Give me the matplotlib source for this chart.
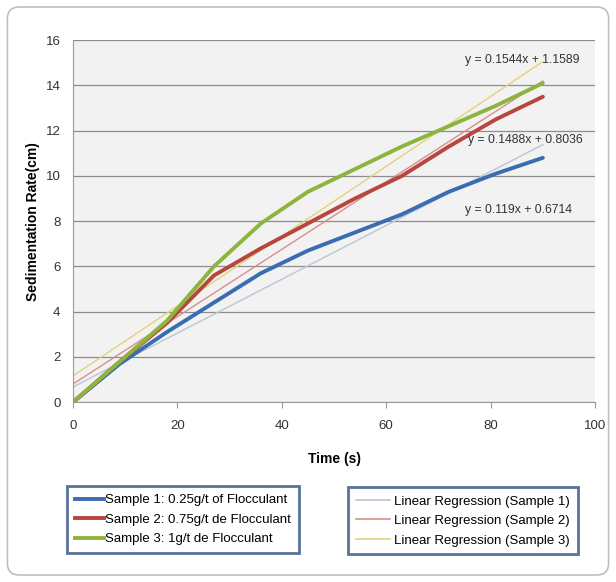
import matplotlib
matplotlib.use("Agg")
import matplotlib.pyplot as plt
from matplotlib.patches import FancyBboxPatch
from matplotlib.lines import Line2D

# measured times (s)
time = [0, 9, 18, 27, 36, 45, 54, 63, 72, 81, 90]

# sedimentation (cm)
sample1 = [0, 1.7, 3.1, 4.4, 5.7, 6.7, 7.5, 8.3, 9.3, 10.1, 10.8]
sample2 = [0, 1.8, 3.5, 5.6, 6.8, 7.9, 9.0, 10.0, 11.3, 12.5, 13.5]
sample3 = [0, 1.8, 3.6, 6.0, 7.9, 9.3, 10.3, 11.3, 12.2, 13.1, 14.1]

labels = ["Sample 1: 0.25g/t of Flocculant",
          "Sample 2: 0.75g/t de Flocculant",
          "Sample 3: 1g/t de Flocculant"]
reg_labels = ["Linear Regression (Sample 1)",
              "Linear Regression (Sample 2)",
              "Linear Regression (Sample 3)"]

# regression coefficients (slope, intercept) as printed on the chart
reg1 = (0.119, 0.6714)
reg2 = (0.1488, 0.8036)
reg3 = (0.1544, 1.1589)
eq_text = ["y = 0.119x + 0.6714", "y = 0.1488x + 0.8036", "y = 0.1544x + 1.1589"]

colors = ["#3a6cb0", "#b8463f", "#8db43e"]
reg_colors = ["#b9c6d6", "#d98f8a", "#e3d27a"]

plt.rcParams['font.family'] = ['Liberation Sans', 'DejaVu Sans']

fig = plt.figure(figsize=(6.16, 5.82), dpi=100)
fig.patch.set_facecolor("white")

# rounded outer frame
frame = FancyBboxPatch((0.012, 0.012), 0.976, 0.976,
                       boxstyle="round,pad=0,rounding_size=0.02",
                       transform=fig.transFigure, fc="white", ec="#bfbfbf",
                       lw=1.2, zorder=-10)
fig.patches.append(frame)

ax = fig.add_axes([0.1185, 0.309, 0.8475, 0.622])
ax.set_facecolor("#f2f2f2")

xs = [0, 90]
ax.plot(xs, [reg1[0] * x + reg1[1] for x in xs], color=reg_colors[0], lw=1.0)
ax.plot(xs, [reg2[0] * x + reg2[1] for x in xs], color=reg_colors[1], lw=1.0)
ax.plot(xs, [reg3[0] * x + reg3[1] for x in xs], color=reg_colors[2], lw=1.0)

for ys, c in zip([sample1, sample2, sample3], colors):
    ax.plot(time, ys, color=c, lw=2.8, solid_joinstyle="round", solid_capstyle="round")

ax.text(95.6, 8.5, eq_text[0], fontsize=8.8, ha="right", va="center", color="#333333")
ax.text(97.7, 11.6, eq_text[1], fontsize=8.8, ha="right", va="center", color="#333333")
ax.text(97.1, 15.13, eq_text[2], fontsize=8.8, ha="right", va="center", color="#333333")

ax.set_xlim(0, 100)
ax.set_ylim(0, 16)
ax.set_xticks(range(0, 101, 20))
ax.set_yticks(range(0, 17, 2))
ax.tick_params(axis="both", labelsize=9.5, colors="#333333", length=4, color="#999999")
ax.tick_params(axis="x", pad=9)
ax.tick_params(axis="y", length=0, pad=9)
ax.grid(axis="y", color="#8c8c8c", lw=0.9)
ax.set_axisbelow(True)
for s in ["top", "right"]:
    ax.spines[s].set_visible(False)
for s in ["left", "bottom"]:
    ax.spines[s].set_color("#999999")

ax.set_xlabel("Time (s)", fontsize=10, fontweight="bold", labelpad=14)
ax.set_ylabel("Sedimentation Rate(cm)", fontsize=10, fontweight="bold", labelpad=4)

h1 = [Line2D([], [], color=c, lw=2.8) for c in colors]
h2 = [Line2D([], [], color=c, lw=1.2) for c in reg_colors]
leg1 = fig.legend(h1, labels, loc="center", bbox_to_anchor=(0.297, 0.107),
                  fontsize=9.5, frameon=True, fancybox=False, handlelength=2.2,
                  handletextpad=0.1, labelspacing=0.55, borderpad=0.6, borderaxespad=0)
leg1.get_frame().set_edgecolor("#2f4f7f")
leg1.get_frame().set_linewidth(2.0)
leg2 = fig.legend(h2, reg_labels, loc="center", bbox_to_anchor=(0.751, 0.105),
                  fontsize=9.5, frameon=True, fancybox=False, handlelength=2.6,
                  handletextpad=0.3, labelspacing=0.55, borderpad=0.6, borderaxespad=0)
leg2.get_frame().set_edgecolor("#2f4f7f")
leg2.get_frame().set_linewidth(2.0)

fig.savefig("out.png", dpi=100)
